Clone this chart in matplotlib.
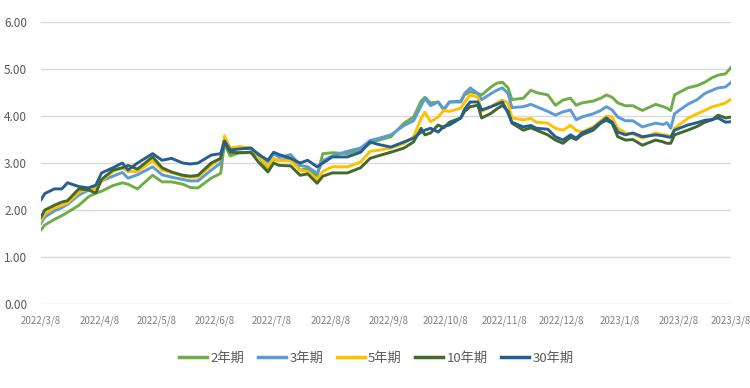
import matplotlib
matplotlib.use("Agg")
import matplotlib.pyplot as plt
import matplotlib.dates as mdates
import pandas as pd

plt.rcParams['font.family'] = ['Noto Sans CJK SC', 'DejaVu Sans']

dates = ["2022-03-08","2022-03-10","2022-03-15","2022-03-19","2022-03-22","2022-03-28","2022-04-02","2022-04-06",
         "2022-04-09","2022-04-15","2022-04-20","2022-04-23","2022-04-28","2022-05-06","2022-05-11","2022-05-16",
         "2022-05-22","2022-05-26","2022-05-30","2022-06-06","2022-06-11","2022-06-13","2022-06-16","2022-06-21",
         "2022-06-27","2022-07-01","2022-07-06","2022-07-09","2022-07-12","2022-07-18","2022-07-23","2022-07-27",
         "2022-08-01","2022-08-04","2022-08-09","2022-08-17","2022-08-24","2022-08-29","2022-09-02","2022-09-09",
         "2022-09-16","2022-09-21","2022-09-25","2022-09-27","2022-09-30","2022-10-04","2022-10-07","2022-10-10",
         "2022-10-16","2022-10-18","2022-10-21","2022-10-25","2022-10-27","2022-11-01","2022-11-04","2022-11-07",
         "2022-11-10","2022-11-12","2022-11-18","2022-11-22","2022-11-25","2022-12-01","2022-12-05","2022-12-09",
         "2022-12-13","2022-12-16","2022-12-19","2022-12-25","2022-12-29","2023-01-01","2023-01-04","2023-01-07",
         "2023-01-11","2023-01-15","2023-01-20","2023-01-27","2023-01-31","2023-02-02","2023-02-04","2023-02-06",
         "2023-02-13","2023-02-18","2023-02-22","2023-02-26","2023-03-01","2023-03-05","2023-03-08"]

y2 = [1.58,1.68,1.80,1.88,1.95,2.10,2.28,2.36,2.40,2.52,2.58,2.55,2.45,2.74,2.60,2.60,
      2.55,2.48,2.47,2.68,2.78,3.42,3.15,3.22,3.22,3.15,2.85,3.08,3.05,3.10,2.85,2.88,
      2.72,3.20,3.22,3.20,3.28,3.42,3.48,3.56,3.85,3.98,4.32,4.40,4.28,4.30,4.15,4.30,
      4.32,4.45,4.52,4.48,4.45,4.62,4.70,4.72,4.60,4.35,4.38,4.55,4.50,4.45,4.23,4.34,
      4.38,4.23,4.28,4.32,4.38,4.45,4.40,4.28,4.22,4.22,4.12,4.25,4.20,4.17,4.12,4.45,
      4.60,4.65,4.72,4.82,4.87,4.90,5.04]
y3 = [1.72,1.85,1.98,2.05,2.12,2.32,2.42,2.50,2.62,2.72,2.80,2.68,2.75,2.92,2.75,2.70,
      2.65,2.62,2.62,2.85,3.00,3.50,3.30,3.32,3.30,3.20,3.02,3.20,3.12,3.18,2.95,2.92,
      2.78,3.05,3.15,3.25,3.32,3.48,3.52,3.60,3.80,3.90,4.22,4.38,4.22,4.30,4.13,4.30,
      4.30,4.48,4.60,4.48,4.35,4.48,4.55,4.60,4.48,4.18,4.20,4.25,4.20,4.10,4.02,4.09,
      4.13,3.92,3.98,4.05,4.12,4.20,4.13,3.98,3.90,3.90,3.77,3.85,3.82,3.86,3.74,4.05,
      4.25,4.35,4.48,4.55,4.60,4.62,4.72]
y5 = [1.78,1.92,2.05,2.10,2.15,2.38,2.45,2.45,2.62,2.82,2.90,2.82,2.82,3.05,2.85,2.80,
      2.72,2.70,2.70,2.95,3.10,3.58,3.32,3.35,3.32,3.15,2.92,3.10,3.05,3.05,2.85,2.82,
      2.65,2.82,2.92,2.92,3.02,3.25,3.27,3.32,3.42,3.56,3.95,4.08,3.88,3.98,4.12,4.10,
      4.17,4.30,4.45,4.40,4.10,4.20,4.28,4.34,4.28,3.96,3.92,3.95,3.87,3.85,3.74,3.70,
      3.80,3.70,3.66,3.77,3.90,4.00,3.98,3.74,3.64,3.62,3.53,3.64,3.60,3.60,3.55,3.74,
      3.95,4.05,4.12,4.20,4.23,4.28,4.36]
y10 = [1.85,2.00,2.10,2.17,2.20,2.45,2.43,2.36,2.65,2.85,2.90,2.95,2.87,3.13,2.90,2.81,
       2.74,2.72,2.74,3.00,3.10,3.45,3.23,3.22,3.23,3.02,2.81,3.00,2.95,2.94,2.74,2.77,
       2.57,2.72,2.79,2.79,2.90,3.10,3.15,3.23,3.32,3.45,3.74,3.60,3.64,3.81,3.75,3.87,
       3.96,4.10,4.20,4.23,3.96,4.06,4.15,4.23,4.10,3.85,3.70,3.75,3.70,3.60,3.49,3.42,
       3.55,3.50,3.60,3.70,3.85,3.91,3.85,3.56,3.49,3.50,3.38,3.49,3.45,3.42,3.42,3.60,
       3.70,3.78,3.87,3.92,4.02,3.96,3.98]
y30 = [2.22,2.35,2.45,2.45,2.58,2.50,2.47,2.53,2.79,2.90,3.00,2.85,3.00,3.20,3.06,3.10,
       3.00,2.98,3.00,3.17,3.20,3.47,3.28,3.30,3.32,3.18,3.06,3.23,3.18,3.10,3.00,3.06,
       2.92,3.00,3.13,3.13,3.23,3.45,3.40,3.34,3.45,3.53,3.66,3.70,3.74,3.66,3.78,3.81,
       3.96,4.15,4.30,4.30,4.13,4.20,4.25,4.30,4.06,3.87,3.77,3.80,3.74,3.72,3.56,3.49,
       3.60,3.53,3.64,3.74,3.87,3.96,3.87,3.66,3.60,3.64,3.56,3.60,3.58,3.56,3.55,3.70,
       3.81,3.86,3.91,3.93,3.96,3.87,3.88]

series_names = ["2年期", "3年期", "5年期", "10年期", "30年期"]
series_colors = ["#70AD47", "#5B9BD5", "#FFC000", "#43682B", "#255E91"]
yticks = [0, 1, 2, 3, 4, 5, 6]
xtick_dates = ["2022-03-08","2022-04-08","2022-05-08","2022-06-08","2022-07-08","2022-08-08","2022-09-08",
               "2022-10-08","2022-11-08","2022-12-08","2023-01-08","2023-02-08","2023-03-08"]
xtick_labels = ["2022/3/8","2022/4/8","2022/5/8","2022/6/8","2022/7/8","2022/8/8","2022/9/8",
                "2022/10/8","2022/11/8","2022/12/8","2023/1/8","2023/2/8","2023/3/8"]

x = pd.to_datetime(dates)
fig = plt.figure(figsize=(7.5, 3.88), dpi=100)
ax = fig.add_axes([0.0547, 0.2165, 0.9203, 0.7265])

for vals, name, col in zip([y2, y3, y5, y10, y30], series_names, series_colors):
    ax.plot(x, vals, color=col, lw=2.1, label=name, solid_joinstyle='round')

ax.set_ylim(0, 6)
ax.set_xlim(pd.Timestamp("2022-03-08"), pd.Timestamp("2023-03-08"))
ax.set_yticks(yticks)
ax.set_yticklabels([f"{v:.2f}" for v in yticks])
ax.set_xticks(pd.to_datetime(xtick_dates))
ax.set_xticklabels(xtick_labels)
ax.grid(axis='y', color='#D9D9D9', lw=1)
ax.set_axisbelow(True)
for s in ax.spines.values():
    s.set_visible(False)
ax.tick_params(axis='y', length=0, pad=10, labelsize=8.5, labelcolor='#595959')
ax.tick_params(axis='x', length=0, pad=8, labelsize=7, labelcolor='#7F7F7F')

leg = fig.legend(loc='center', bbox_to_anchor=(0.502, 0.077), ncol=5, frameon=False,
                 fontsize=9.5, handlelength=2.1, columnspacing=1.05, handletextpad=0.25)
for t in leg.get_texts():
    t.set_color('#595959')
for h in leg.get_lines():
    h.set_linewidth(2.5)

fig.savefig("out.png", dpi=100)
